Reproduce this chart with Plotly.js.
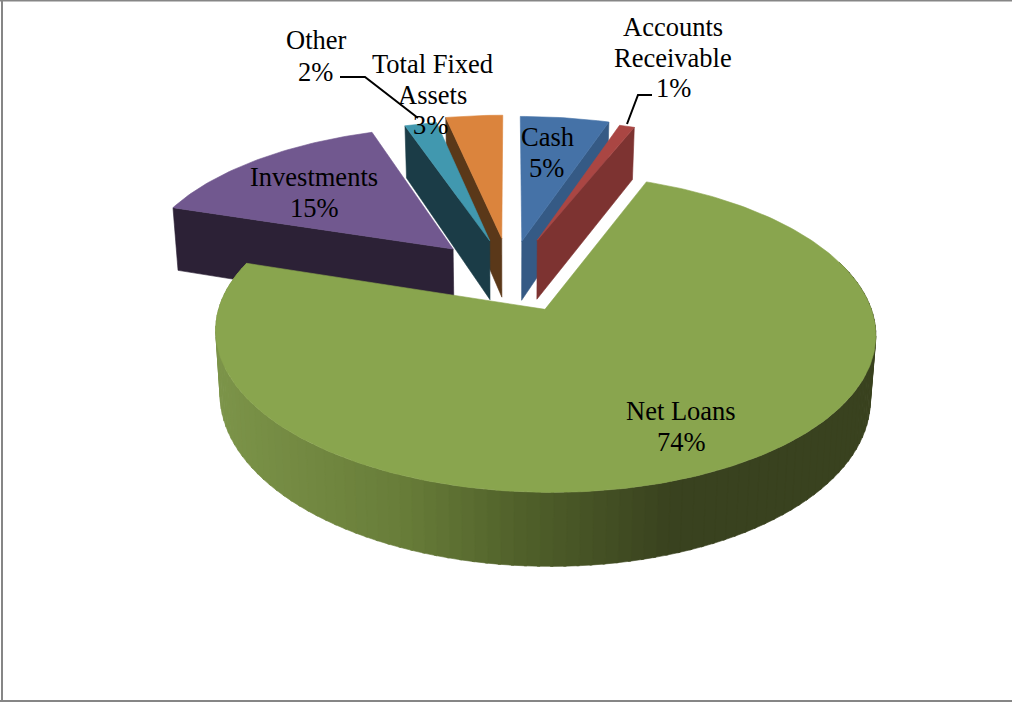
<!DOCTYPE html>
<html><head><meta charset="utf-8">
<script src="https://cdn.plot.ly/plotly-3.0.1.min.js"></script>
<style>html,body{margin:0;padding:0;background:#fff}#c{width:1012px;height:702px}</style>
</head><body><div id="c"></div>
<script>
// ---- data (shares; labels show them rounded) ----
const categories = ["Cash","Accounts Receivable","Net Loans","Investments","Other","Total Fixed Assets"];
const values = [5.1,0.9,74,14.8,1.9,3.3];
const topColors = ["#4572A7","#AA4643","#89A54E","#71588F","#4198AF","#DB843D"];
const wallColors = ["#355A85","#7D3331","#39421F","#2C2136","#1B3C47","#5A3819"];
const drawOrder = [3,5,4,0,1,2];
const explodeBy = [0.24,0.26,0.25,0.258,0.25,0.26];
const radiusBy = [1.04,1.0,0.993,1.0,1.0,1.03];
const depthBy = [1,1,1,1.1,1,1];
const pct = i => Math.round(values[i])+"%";
// label lines: text, centre x, centre y
const labelLines = [
 ["Accounts",673,26.5],["Receivable",673,57.5],[pct(1),673,87.5],
 ["Other",316,39.5],[pct(4),315,71.5],
 ["Total Fixed",432,63.5],["Assets",432,94.5],[pct(5),430,124.5],
 ["Cash",547,136.5],[pct(0),546,167.5],
 ["Investments",314,176.5],[pct(3),314,207.5],
 ["Net Loans",681,410.5],[pct(2),681,441.5]
];
const leaderOtherX=[340,365,418], leaderOtherY=[77,77,118];
const leaderArX=[652,638,627], leaderArY=[95,95,124];
const rimStops=[[215,[124,148,73]],[400,[104,125,57]],[520,[80,96,42]],[600,[68,80,36]],[670,[57,66,31]],[900,[57,66,31]]];

// ---- projection of the tilted, perspective pie ----
const X0=510,Y0=275,A=147,B=318,K=0.144,DEPTH=61,SHRINK=0.985;
const rad=d=>d*Math.PI/180;
function proj(X,V){const w=1/(1-K*V);return [X0+B*X*w,Y0+A*V*w,w];}
const total=values.reduce((a,b)=>a+b,0);
let acc=0;
const slices=values.map((v,i)=>{const s=acc/total*360;acc+=v;const e=acc/total*360;return {i,s,e};});

const traces=[];
function poly(pts,color){
  const xs=pts.map(p=>p[0]);const ys=pts.map(p=>p[1]);xs.push(xs[0]);ys.push(ys[0]);
  traces.push({type:"scatter",mode:"lines",x:xs,y:ys,fill:"toself",fillcolor:color,
    line:{color:color,width:0.6},hoverinfo:"skip",showlegend:false});
}
function rimColor(x){
  for(let j=0;j<rimStops.length-1;j++){
    const a=rimStops[j],b=rimStops[j+1];
    if(x<=b[0]){const t=Math.max(0,(x-a[0])/(b[0]-a[0]));
      const c=a[1].map((q,n)=>Math.round(q+(b[1][n]-q)*t));
      return `rgb(${c[0]},${c[1]},${c[2]})`;}
  }
  return "rgb(57,66,31)";
}
drawOrder.forEach(idx=>{
  const sl=slices[idx];
  const bis=rad((sl.s+sl.e)/2);
  const ex=explodeBy[idx]*Math.sin(bis),ev=-explodeBy[idx]*Math.cos(bis);
  const r=radiusBy[idx];
  const pt=d=>proj(ex+r*Math.sin(rad(d)),ev-r*Math.cos(rad(d)));
  const lower=p=>[X0+(p[0]-X0)*SHRINK,p[1]+DEPTH*depthBy[idx]*p[2]];
  const apex=proj(ex,ev);
  const step=idx===2?2:1;
  for(let d=sl.s;d<sl.e-1e-6;d+=step){
    const d2=Math.min(d+step,sl.e);
    if(Math.cos(rad((d+d2)/2))>0.3)continue; // only the rim that faces the viewer
    const p=pt(d),q=pt(d2+(d2<sl.e?0.4:0));
    const col=idx===2?rimColor((p[0]+q[0])/2):wallColors[idx];
    poly([p,q,lower(q),lower(p)],col);
  }
  if(Math.sin(rad(sl.s))<0){const p=pt(sl.s);poly([apex,p,lower(p),lower(apex)],wallColors[idx]);}
  if(Math.sin(rad(sl.e))>0){const p=pt(sl.e);poly([apex,p,lower(p),lower(apex)],wallColors[idx]);}
  const top=[apex];
  for(let d=sl.s;d<sl.e;d+=1)top.push(pt(d));
  top.push(pt(sl.e));
  poly(top,topColors[idx]);
});
[[leaderOtherX,leaderOtherY],[leaderArX,leaderArY]].forEach(l=>{
  traces.push({type:"scatter",mode:"lines",x:l[0],y:l[1],line:{color:"#000",width:2},hoverinfo:"skip",showlegend:false});
});
const annotations=labelLines.map(l=>({x:l[1],y:l[2],text:l[0],showarrow:false,xref:"x",yref:"y",
  xanchor:"center",yanchor:"middle",font:{family:"'Liberation Serif',serif",size:26.5,color:"#000"}}));
const edge=(x0,y0,x1,y1)=>({type:"line",xref:"x",yref:"y",x0,y0,x1,y1,line:{color:"#868686",width:2}});
Plotly.newPlot("c",traces,{
  width:1012,height:702,margin:{l:0,r:0,t:0,b:0},paper_bgcolor:"#fff",plot_bgcolor:"#fff",
  xaxis:{range:[0,1012],visible:false,fixedrange:true},
  yaxis:{range:[702,0],visible:false,fixedrange:true},
  showlegend:false,hovermode:false,annotations,
  shapes:[edge(2,0,2,702),edge(0,701,1012,701),edge(0,0.5,1012,0.5)]
},{displayModeBar:false,staticPlot:true});
</script></body></html>
